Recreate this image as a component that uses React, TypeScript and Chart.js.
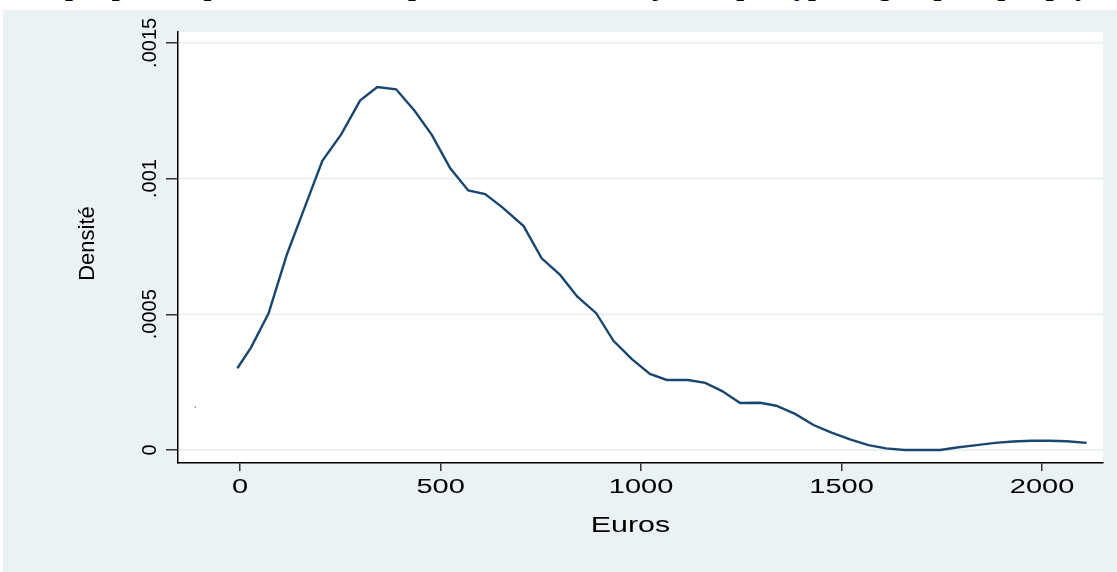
import React, { useEffect, useRef } from "react";
import { Chart, registerables } from "chart.js";

Chart.register(...registerables);

// ---- data ----
const titleText = "Graphique : Répartition de la dépense mensuelle des jeunes par type de groupe et par pays";
const xAxisTitle = "Euros";
const yAxisTitle = "Densité";
const xTicks = [0, 500, 1000, 1500, 2000];
const xTickLabels = ["0", "500", "1000", "1500", "2000"];
const yTicks = [0, 0.0005, 0.001, 0.0015];
const yTickLabels = ["0", ".0005", ".001", ".0015"];

const euros = [
  -7, 27, 71, 117, 161, 205, 252, 299, 342, 389,
  435, 478, 524, 569, 611, 654, 707, 752, 798, 841,
  888, 931, 977, 1022, 1064, 1117, 1160, 1202, 1247, 1297,
  1337, 1384, 1430, 1475, 1521, 1567, 1611, 1657, 1702, 1746,
  1792, 1837, 1883, 1928, 1974, 2018, 2062, 2111,
];
const density = [
  0.000301, 0.000377, 0.000504, 0.000722, 0.000894, 0.001065, 0.001163, 0.001287, 0.001337, 0.001329,
  0.00125, 0.001161, 0.001038, 0.000956, 0.000943, 0.000894, 0.000825, 0.000706, 0.000645, 0.000565,
  0.000504, 0.000402, 0.000335, 0.00028, 0.000258, 0.000258, 0.000247, 0.000217, 0.000173, 0.000174,
  0.000163, 0.000133, 0.000092, 0.000064, 0.000039, 0.000018, 0.000006, 0, 0, 0,
  0.00001, 0.000018, 0.000026, 0.000031, 0.000034, 0.000034, 0.000032, 0.000026,
];
const strayX = [-112];
const strayY = [0.000158];

const LINE = "#1A476F";
const PANEL = "#EAF2F3";
const FONT = "'Liberation Sans', Arial, Helvetica, sans-serif";

const decorPlugin = {
  id: "stataDecor",
  beforeDraw(chart: any) {
    const { ctx, chartArea: a } = chart;
    ctx.save();
    ctx.fillStyle = "#ffffff";
    ctx.fillRect(a.left, a.top, a.right - a.left, a.bottom - a.top);
    ctx.restore();
  },
  beforeDatasetsDraw(chart: any) {
    const { ctx, chartArea: a, scales } = chart;
    const ys = scales.y;
    ctx.save();
    ctx.strokeStyle = PANEL;
    ctx.lineWidth = 2;
    yTicks.forEach((v) => {
      const py = ys.getPixelForValue(v);
      ctx.beginPath();
      ctx.moveTo(a.left + 1, py);
      ctx.lineTo(a.right, py);
      ctx.stroke();
    });
    ctx.restore();
  },
  afterDraw(chart: any) {
    const { ctx, chartArea: a, scales } = chart;
    const xs = scales.x;
    const ys = scales.y;
    ctx.save();
    ctx.fillStyle = "#000";
    ctx.textAlign = "center";
    ctx.textBaseline = "middle";
    // y tick labels (rotated)
    ctx.font = `20px ${FONT}`;
    yTicks.forEach((v, i) => {
      const py = ys.getPixelForValue(v);
      ctx.save();
      ctx.translate(a.left - 28, py);
      ctx.rotate(-Math.PI / 2);
      ctx.fillText(yTickLabels[i], 0, 0);
      ctx.restore();
    });
    // x tick labels (wide)
    ctx.font = `20px ${FONT}`;
    xTicks.forEach((v, i) => {
      const px = xs.getPixelForValue(v);
      ctx.save();
      ctx.translate(px, a.bottom + 24);
      ctx.scale(1.45, 1);
      ctx.fillText(xTickLabels[i], 0, 0);
      ctx.restore();
    });
    // x axis title
    ctx.font = `22px ${FONT}`;
    ctx.save();
    ctx.translate((a.left + a.right) / 2 - 10, a.bottom + 63);
    ctx.scale(1.38, 1);
    ctx.fillText(xAxisTitle, 0, 0);
    ctx.restore();
    // y axis title
    ctx.save();
    ctx.translate(a.left - 90, (a.top + a.bottom) / 2 - 4);
    ctx.rotate(-Math.PI / 2);
    ctx.fillText(yAxisTitle, 0, 0);
    ctx.restore();
    ctx.restore();
  },
};

export default function App() {
  const ref = useRef<HTMLCanvasElement | null>(null);

  useEffect(() => {
    document.body.style.margin = "0";
    const canvas = ref.current;
    if (!canvas) return;
    const chart = new Chart(canvas, {
      type: "line",
      data: {
        datasets: [
          {
            data: euros.map((x, i) => ({ x, y: density[i] })),
            borderColor: LINE,
            borderWidth: 2.4,
            pointRadius: 0,
            tension: 0,
            fill: false,
          },
          {
            data: strayX.map((x, i) => ({ x, y: strayY[i] })),
            borderColor: LINE,
            backgroundColor: LINE,
            showLine: false,
            pointRadius: 0.7,
            pointBorderWidth: 0,
          },
        ],
      },
      options: {
        animation: false,
        responsive: false,
        maintainAspectRatio: false,
        devicePixelRatio: 1,
        layout: { padding: { top: 22, right: 14, left: 0, bottom: 0 } },
        plugins: {
          legend: { display: false },
          tooltip: { enabled: false },
          title: { display: false },
        },
        scales: {
          x: {
            type: "linear",
            min: -155,
            max: 2152,
            afterBuildTicks: (s: any) => {
              s.ticks = xTicks.map((v) => ({ value: v }));
            },
            afterFit: (s: any) => {
              s.height = 109;
            },
            ticks: { display: false },
            grid: {
              display: true,
              drawOnChartArea: false,
              drawTicks: true,
              tickLength: 8,
              color: "#333",
              lineWidth: 1.5,
            },
            border: { display: true, color: "#000", width: 1.5 },
          },
          y: {
            type: "linear",
            min: -0.000048,
            max: 0.00154,
            afterBuildTicks: (s: any) => {
              s.ticks = yTicks.map((v) => ({ value: v }));
            },
            afterFit: (s: any) => {
              s.width = 175;
            },
            ticks: { display: false },
            grid: {
              display: true,
              drawOnChartArea: false,
              drawTicks: true,
              tickLength: 12,
              color: "#333",
              lineWidth: 1.5,
            },
            border: { display: true, color: "#000", width: 1.5 },
          },
        },
      },
      plugins: [decorPlugin],
    } as any);
    return () => chart.destroy();
  }, []);

  return (
    <div style={{ position: "relative", width: 1117, height: 572, background: "#fff", overflow: "hidden" }}>
      <div style={{ position: "absolute", left: 0, top: 0, width: 1117, height: 10, overflow: "hidden" }}>
        <div
          style={{
            position: "absolute",
            left: 0,
            top: -28,
            width: 1117,
            textAlign: "center",
            whiteSpace: "nowrap",
            font: "bold 28px 'Liberation Serif', 'Times New Roman', serif",
            lineHeight: "28px",
            color: "#000",
          }}
        >
          {titleText}
        </div>
      </div>
      <div style={{ position: "absolute", left: 3, top: 10, width: 1114, height: 562, background: PANEL }}>
        <canvas ref={ref} width={1114} height={562} style={{ display: "block", width: 1114, height: 562 }} />
      </div>
    </div>
  );
}
